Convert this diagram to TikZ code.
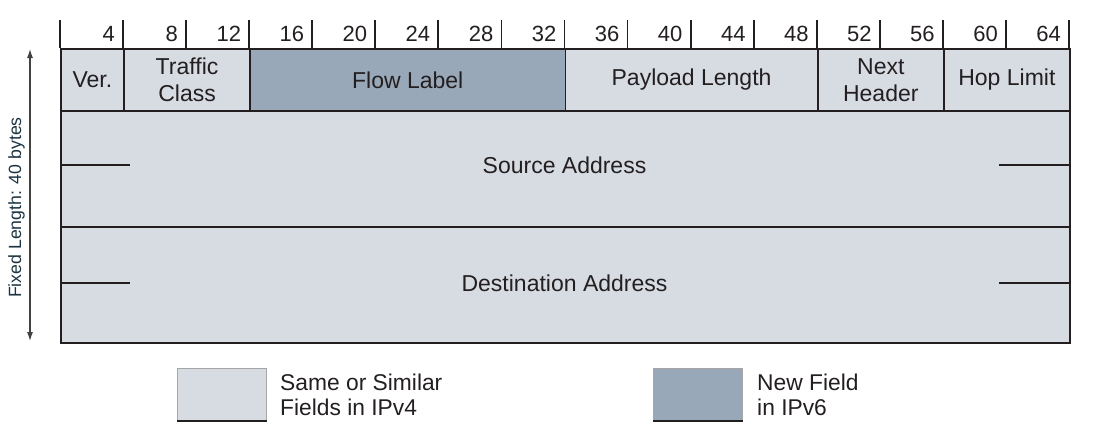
\documentclass[tikz,border=0pt]{standalone}
\usepackage{fontspec}
\setmainfont{Liberation Sans}
\usetikzlibrary{arrows.meta}
\definecolor{oldfield}{RGB}{215,220,227}
\definecolor{newfield}{RGB}{152,168,184}
\definecolor{ink}{RGB}{35,31,32}
\definecolor{sidetext}{RGB}{28,52,66}
\begin{document}
\begin{tikzpicture}[x=1pt,y=-1pt,
  field/.style={draw=ink, line width=1.8pt, fill=oldfield, inner sep=0pt,
    anchor=north west, font=\fontsize{23}{27}\selectfont, text=ink, align=center},
  newf/.style={field, fill=newfield},
  lbl/.style={font=\fontsize{23}{27}\selectfont, text=ink, inner sep=0pt},
  bitnum/.style={lbl, font=\fontsize{22}{27}\selectfont, anchor=base east},
  tick/.style={draw=ink, line width=1.8pt},
  stub/.style={draw=ink, line width=1.5pt},
  legbox/.style={draw=black!35, line width=0.8pt, inner sep=0pt, anchor=north west,
    minimum width=89pt, minimum height=52pt},
  legtext/.style={lbl, font=\fontsize{22.8}{27}\selectfont, anchor=base west},
  span/.style={draw=ink!85, line width=1.1pt, {Latex[length=9pt,width=6pt]}-{Latex[length=9pt,width=6pt]}}
]
\useasboundingbox (0,0) rectangle (1094,437);

% ruler
\foreach \b in {0,4,...,64}{
  \pgfmathsetmacro{\xx}{60+\b*15.765625}
  \draw[tick] (\xx,20) -- (\xx,48);
  \ifnum\b>0
    \node[bitnum] (n\b) at (\xx-8,41.7) {\b};
  \fi
}

% header fields
\node[field, minimum width=63.1pt, minimum height=62pt] (ver) at (60,48) {Ver.};
\node[field, minimum width=126.1pt, minimum height=62pt] (tc) at (123.1,48) {Traffic\\Class};
\node[newf, minimum width=315.3pt, minimum height=62pt] (flow) at (249.2,48) {Flow Label};
\node[field, minimum width=252.3pt, minimum height=62pt] (pay) at (564.5,48) {Payload Length};
\node[field, minimum width=126.2pt, minimum height=62pt] (next) at (816.8,48) {Next\\Header};
\node[field, minimum width=126pt, minimum height=62pt] (hop) at (943,48) {Hop Limit};

% addresses
\node[field, minimum width=1009pt, minimum height=116pt] (src) at (60,110) {};
\node[lbl] (srct) at (564.5,165) {Source Address};
\node[field, minimum width=1009pt, minimum height=116pt] (dst) at (60,226) {};
\node[lbl] (dstt) at (564.5,283) {Destination Address};

\draw[stub] (60,165) -- (130,165);
\draw[stub] (999,165) -- (1069,165);
\draw[stub] (60,283) -- (130,283);
\draw[stub] (999,283) -- (1069,283);

% side arrow
\coordinate (ftop) at (30,49);
\coordinate (fbot) at (30,341);
\draw[span] (ftop) -- (fbot);
\node[rotate=90, font=\fontsize{17.7}{20}\selectfont, text=sidetext, inner sep=0pt] (fixed) at (16.5,207.5) {Fixed Length: 40 bytes};

% legend
\node[legbox, fill=oldfield] (leg1) at (177,368) {};
\draw[line width=2pt, draw=ink] (leg1.south west) -- (leg1.south east);
\node[legtext] (leg1a) at (280,390) {Same or Similar};
\node[legtext] (leg1b) at (280,415) {Fields in IPv4};

\node[legbox, fill=newfield] (leg2) at (653,368) {};
\draw[line width=2pt, draw=ink] (leg2.south west) -- (leg2.south east);
\node[legtext] (leg2a) at (757,390) {New Field};
\node[legtext] (leg2b) at (757,415) {in IPv6};
\end{tikzpicture}
\end{document}
